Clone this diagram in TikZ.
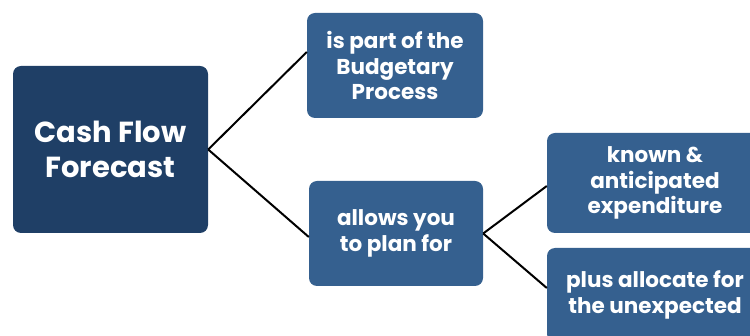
\documentclass[tikz,border=0pt]{standalone}
\usepackage{fontspec}
\setmainfont{Poppins}
\definecolor{dark}{HTML}{1F3F66}
\definecolor{mid}{HTML}{35608F}
\tikzset{
  box/.style={fill=mid, rounded corners=8pt, text=white, align=center, inner sep=0pt,
    font=\bfseries\fontsize{21.5}{25.5}\selectfont},
  mainbox/.style={box, fill=dark, font=\bfseries\fontsize{29}{35}\selectfont},
  link/.style={draw=black, line width=2pt}
}
\begin{document}
\begin{tikzpicture}[x=1pt,y=-1pt]
\useasboundingbox (0,0) rectangle (750,336);
\clip (0,0) rectangle (750,336);
\node[mainbox, minimum width=195pt, minimum height=167pt] (main) at (110.5,149.5) {Cash Flow\\Forecast};
\node[box, minimum width=176pt, minimum height=105pt] (b1) at (395,65.5) {is part of the\\Budgetary\\Process};
\node[box, minimum width=174pt, minimum height=105pt] (b2) at (396,233.5) {allows you\\to plan for};
\node[box, minimum width=216pt, minimum height=100pt] (b3) at (655,183) {known \&\\anticipated\\expenditure};
\node[box, minimum width=216pt, minimum height=94pt] (b4) at (655,295) {plus allocate for\\the unexpected};
\draw[link] (main.east) -- ([yshift=13.5pt]b1.west);
\draw[link] (main.east) -- ([yshift=-3.5pt]b2.west);
\draw[link] (b2.east) -- ([yshift=-3pt]b3.west);
\draw[link] (b2.east) -- ([yshift=7pt]b4.west);
\end{tikzpicture}
\end{document}
